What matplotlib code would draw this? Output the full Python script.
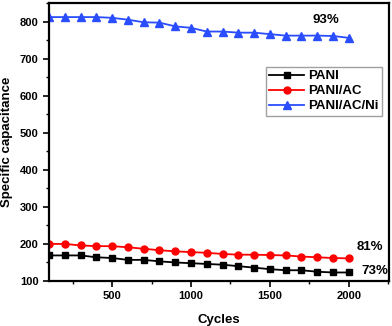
import matplotlib

matplotlib.use("Agg")
import matplotlib.pyplot as plt
from matplotlib.ticker import MultipleLocator

plt.rcParams["font.family"] = ["Liberation Sans", "DejaVu Sans"]
plt.rcParams["font.weight"] = "bold"

cycles = [100, 200, 300, 400, 500, 600, 700, 800, 900, 1000,
          1100, 1200, 1300, 1400, 1500, 1600, 1700, 1800, 1900, 2000]
pani = [169, 169, 169, 164, 162, 157, 157, 153, 150, 148,
        146, 144, 140, 136, 132, 129, 129, 125, 123, 123]
pani_ac = [200, 200, 196, 194, 194, 191, 187, 183, 180, 178,
           176, 173, 171, 171, 170, 169, 166, 164, 162, 161]
pani_ac_ni = [812, 812, 812, 812, 810, 805, 798, 797, 787, 783,
              773, 773, 770, 770, 766, 762, 762, 762, 761, 756]
retention = ["73%", "81%", "93%"]

fig = plt.figure(figsize=(3.92, 3.26), dpi=100)
ax = fig.add_axes([49 / 392, 45 / 326, 340 / 392, 278 / 326])

ax.plot(cycles, pani, "-s", color="black", lw=1.3, ms=4.5, label="PANI")
ax.plot(cycles, pani_ac, "-o", color="red", lw=1.3, ms=5, label="PANI/AC")
ax.plot(cycles, pani_ac_ni, "-^", color="#2a4dff", lw=1.3, ms=5.5, label="PANI/AC/Ni")

ax.text(2165, 128, retention[0], fontsize=9.5, fontweight="bold", ha="center", va="center")
ax.text(2135, 192, retention[1], fontsize=9.5, fontweight="bold", ha="center", va="center")
ax.text(1855, 804, retention[2], fontsize=9.5, fontweight="bold", ha="center", va="center")

ax.set_xlim(100, 2255)
ax.set_ylim(100, 850)
ax.xaxis.set_major_locator(MultipleLocator(500))
ax.xaxis.set_minor_locator(MultipleLocator(250))
ax.yaxis.set_major_locator(MultipleLocator(100))
ax.yaxis.set_minor_locator(MultipleLocator(50))
ax.tick_params(which="major", direction="out", length=4, width=1.2, labelsize=8)
ax.tick_params(which="minor", direction="out", length=2.5, width=1)
for s in ax.spines.values():
    s.set_linewidth(1.6)
for lab in ax.get_xticklabels() + ax.get_yticklabels():
    lab.set_fontweight("bold")

ax.set_xlabel("Cycles", fontsize=9.5, fontweight="bold", labelpad=9)
ax.set_ylabel("Specific capacitance", fontsize=9.5, fontweight="bold", labelpad=5)

leg = ax.legend(loc="upper right", bbox_to_anchor=(0.978, 0.77), fontsize=9.5,
                frameon=True, fancybox=False, edgecolor="#888888",
                handlelength=2.6, borderpad=0.25, labelspacing=0.2,
                handletextpad=0.3, borderaxespad=0)
leg.get_frame().set_linewidth(1)
for t in leg.get_texts():
    t.set_fontweight("bold")

fig.savefig("out.png", dpi=100)
